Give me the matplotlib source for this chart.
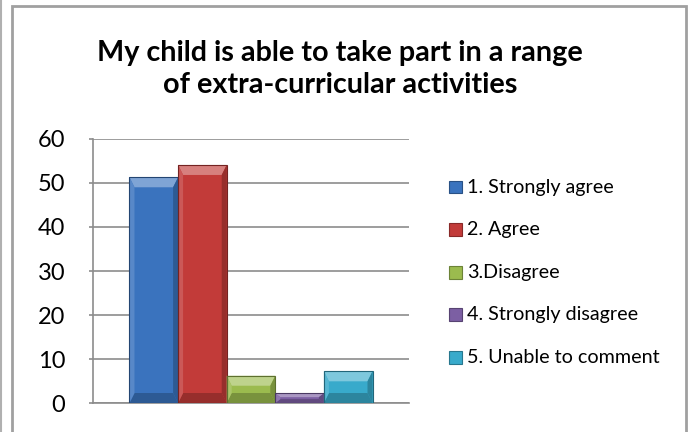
import matplotlib
matplotlib.use("Agg")
import matplotlib.pyplot as plt
from matplotlib.patches import Rectangle, Polygon
from matplotlib.lines import Line2D
import matplotlib.colors as mcolors

title = "My child is able to take part in a range\nof extra-curricular activities"
categories = ["1. Strongly agree", "2. Agree", "3.Disagree", "4. Strongly disagree", "5. Unable to comment"]
values = [51.3, 54.1, 6.2, 2.2, 7.2]
colors = ["#3A73BE", "#C23B39", "#9BBB4E", "#7C5FA3", "#38AACB"]
yticks = [0, 10, 20, 30, 40, 50, 60]

FONT = "Lato"
W, H, DPI = 693, 432, 100
fig = plt.figure(figsize=(W / DPI, H / DPI), dpi=DPI)
fig.patch.set_facecolor("white")

# chart border
fig.add_artist(Rectangle((12 / W, -0.05), (686 - 12) / W, 1 - 6 / H + 0.05,
                         transform=fig.transFigure, fill=False,
                         edgecolor="#A0A0A0", linewidth=2.0))
fig.add_artist(Line2D([1 / W, 1 / W], [0, 1], transform=fig.transFigure,
                      color="#B0B0B0", linewidth=1.5))

ax = fig.add_axes([93 / W, 1 - 403 / H, (409 - 93) / W, (403 - 139) / H])
ax.set_xlim(-0.5, 0.5)
ax.set_ylim(0, 60)

n = len(values)
bw = 0.1538
offs = [(i - (n - 1) / 2) * bw for i in range(n)]
bars = ax.bar(offs, values, width=bw, color=colors, edgecolor="none", zorder=3)

# bevel decoration derived from each bar's geometry
fig.canvas.draw()
to_px = ax.transData
inv = ax.transData.inverted()
for b, c in zip(bars, colors):
    x0, y0 = b.get_x(), b.get_y()
    x1, y1 = x0 + b.get_width(), y0 + b.get_height()
    (px0, py0), (px1, py1) = to_px.transform([(x0, y0), (x1, y1)])
    bx, by = 5, min(10, (py1 - py0) / 2.5)
    def d(p):
        return inv.transform(p)
    base = mcolors.to_rgb(c)
    light = tuple(min(1, v + (1 - v) * 0.35) for v in base)
    dark = tuple(v * 0.78 for v in base)
    mid_l = tuple(min(1, v + (1 - v) * 0.15) for v in base)
    top = [d((px0, py1)), d((px1, py1)), d((px1 - bx, py1 - by)), d((px0 + bx, py1 - by))]
    bot = [d((px0, py0)), d((px1, py0)), d((px1 - bx, py0 + by)), d((px0 + bx, py0 + by))]
    lef = [d((px0, py0)), d((px0, py1)), d((px0 + bx, py1 - by)), d((px0 + bx, py0 + by))]
    rig = [d((px1, py0)), d((px1, py1)), d((px1 - bx, py1 - by)), d((px1 - bx, py0 + by))]
    ax.add_patch(Polygon(top, closed=True, facecolor=light, edgecolor="none", zorder=4))
    ax.add_patch(Polygon(bot, closed=True, facecolor=dark, edgecolor="none", zorder=4))
    ax.add_patch(Polygon(lef, closed=True, facecolor=mid_l, edgecolor="none", zorder=4))
    ax.add_patch(Polygon(rig, closed=True, facecolor=dark, edgecolor="none", zorder=4))
    ax.add_patch(Rectangle((x0, y0), x1 - x0, y1 - y0, fill=False,
                           edgecolor=tuple(v * 0.6 for v in base), linewidth=0.8, zorder=5))

ax.set_yticks(yticks)
ax.set_yticklabels([str(t) for t in yticks], fontsize=17, family=FONT)
ax.set_xticks([])
ax.yaxis.grid(True, color="#8C8C8C", linewidth=1.2, zorder=0)
ax.set_axisbelow(True)
for s in ["top", "right"]:
    ax.spines[s].set_visible(False)
for s in ["left", "bottom"]:
    ax.spines[s].set_color("#8C8C8C")
    ax.spines[s].set_linewidth(1.2)
ax.tick_params(axis="y", length=3, width=1.2, color="#8C8C8C", pad=17)
for lbl in ax.get_yticklabels():
    lbl.set_horizontalalignment("right")

fig.text(340 / W, 1 - 69 / H, title, ha="center", va="center", fontsize=20.7,
         fontweight="bold", family=FONT, linespacing=1.3)

# legend
for i, (lab, c) in enumerate(zip(categories, colors)):
    yc = 1 - (187 + i * 42.6) / H
    fig.add_artist(Rectangle((449 / W, yc - 6.5 / H), 13 / W, 13 / H,
                             transform=fig.transFigure, facecolor=c,
                             edgecolor=tuple(v * 0.7 for v in mcolors.to_rgb(c)), linewidth=0.8))
    fig.text(467 / W, yc, lab, ha="left", va="center", fontsize=14.2, family=FONT)

fig.savefig("out.png", dpi=DPI)
